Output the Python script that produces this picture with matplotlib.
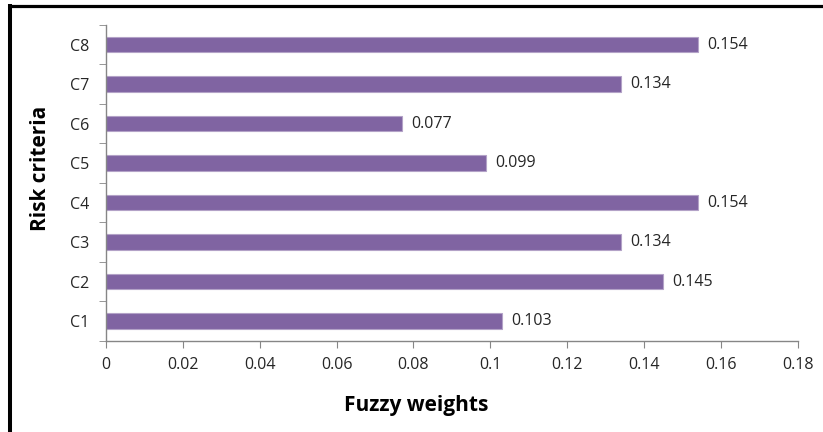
import matplotlib
matplotlib.use("Agg")
import matplotlib.pyplot as plt
from matplotlib.lines import Line2D

categories = ["C1", "C2", "C3", "C4", "C5", "C6", "C7", "C8"]
weights = [0.103, 0.145, 0.134, 0.154, 0.099, 0.077, 0.134, 0.154]
xticks = [0, 0.02, 0.04, 0.06, 0.08, 0.1, 0.12, 0.14, 0.16, 0.18]
xtick_labels = ["0", "0.02", "0.04", "0.06", "0.08", "0.1", "0.12", "0.14", "0.16", "0.18"]

plt.rcParams['font.family'] = ['Open Sans', 'DejaVu Sans']

W, H = 823, 432
fig = plt.figure(figsize=(W / 100, H / 100), dpi=100)
ax = fig.add_axes([106 / W, 1 - 340.7 / H, (797.7 - 106) / W, (340.7 - 25) / H])

ypos = list(range(len(categories)))
bars = ax.barh(ypos, weights, height=0.39, color="#8064A2", edgecolor="#B3A2C7", linewidth=0.8)
for y, v in zip(ypos, weights):
    ax.annotate(f"{v:.3f}", xy=(v, y), xytext=(9, 0), textcoords="offset pixels",
                va="center", ha="left", fontsize=11.5, color="#262626")

ax.set_xlim(0, 0.18)
ax.set_ylim(-0.5, len(categories) - 0.5)
ax.set_xticks(xticks)
ax.set_xticklabels(xtick_labels)
ax.set_yticks(ypos)
ax.set_yticklabels(categories)
ax.set_yticks([i - 0.5 for i in range(len(categories) + 1)], minor=True)
ax.tick_params(axis="y", which="major", length=0, pad=12, labelsize=11.5, labelcolor="#262626")
ax.tick_params(axis="y", which="minor", length=5, color="#868686", direction="out")
ax.tick_params(axis="x", which="major", length=5, color="#868686", direction="out",
               pad=7, labelsize=11.5, labelcolor="#262626")
for s in ["top", "right"]:
    ax.spines[s].set_visible(False)
for s in ["left", "bottom"]:
    ax.spines[s].set_color("#868686")
    ax.spines[s].set_linewidth(1)

fig.text(416 / W, 1 - 405 / H, "Fuzzy weights", ha="center", va="center",
         fontsize=15, fontweight="bold", color="black")
fig.text(40 / W, 1 - 168 / H, "Risk criteria", ha="center", va="center",
         rotation=90, fontsize=15, fontweight="bold", color="black")

# outer frame lines (left and top)
fig.add_artist(Line2D([10 / W, 10 / W], [0, 1 - 4 / H], transform=fig.transFigure,
                      color="black", linewidth=2.9, solid_capstyle="butt"))
fig.add_artist(Line2D([8 / W, 1], [1 - 5.5 / H, 1 - 5.5 / H], transform=fig.transFigure,
                      color="black", linewidth=2.3, solid_capstyle="butt"))

fig.savefig("out.png", dpi=100)
